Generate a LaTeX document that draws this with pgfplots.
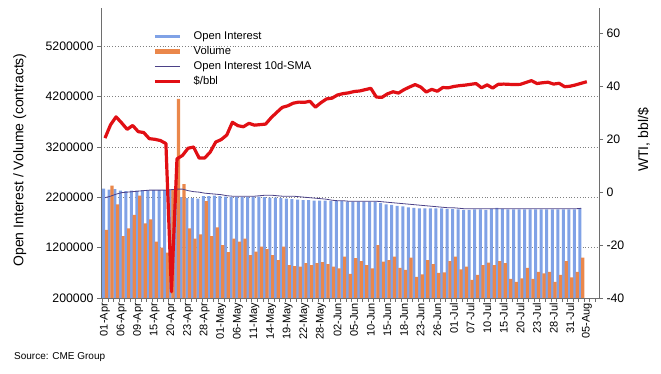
\documentclass[border=0pt]{standalone}
\usepackage{pgfplots}
\pgfplotsset{compat=1.18}
\usepackage{pgfplotstable}
\usepackage{fontspec}
\setmainfont{Liberation Sans}
\definecolor{oiD}{RGB}{80,120,210}
\definecolor{oiM}{RGB}{128,162,230}
\definecolor{volC}{RGB}{234,135,75}
\definecolor{smaC}{RGB}{75,65,135}
\definecolor{wti}{RGB}{225,15,20}
\definecolor{axC}{RGB}{110,110,110}
\pgfplotstableread{
idx oi vol sma price
0 2370000 1550000 2190000 20.31
1 2350000 2430000 2220000 25.32
2 2360000 2060000 2260000 28.34
3 2330000 1430000 2290000 26.08
4 2320000 1580000 2300000 23.63
5 2330000 1850000 2310000 25.09
6 2330000 2230000 2320000 22.76
7 2340000 1680000 2330000 22.41
8 2340000 1760000 2340000 20.11
9 2340000 1320000 2340000 19.87
10 2340000 1200000 2340000 19.40
11 2340000 1100000 2340000 18.27
12 2350000 2350000 2350000 -37.63
13 2370000 4150000 2360000 12.5
14 2200000 2460000 2360000 13.78
15 2180000 1580000 2330000 16.50
16 2180000 1380000 2310000 16.94
17 2170000 1460000 2300000 12.78
18 2220000 2120000 2280000 12.80
19 2220000 1430000 2270000 15.06
20 2230000 1600000 2260000 18.84
21 2220000 1250000 2250000 19.78
22 2210000 1110000 2230000 21.5
23 2200000 1380000 2220000 26.3
24 2200000 1320000 2220000 25.0
25 2200000 1380000 2220000 24.6
26 2200000 1050000 2220000 25.9
27 2210000 1120000 2220000 25.2
28 2210000 1220000 2230000 25.4
29 2200000 1170000 2240000 25.6
30 2190000 1050000 2240000 28.0
31 2190000 950000 2230000 30.0
32 2180000 1220000 2220000 31.9
33 2170000 850000 2220000 32.5
34 2160000 830000 2220000 33.5
35 2150000 820000 2210000 33.9
36 2140000 890000 2200000 33.8
37 2140000 850000 2190000 34.2
38 2130000 890000 2180000 32.0
39 2130000 910000 2170000 33.7
40 2130000 870000 2160000 35.1
41 2120000 820000 2140000 35.4
42 2120000 790000 2130000 36.6
43 2120000 1020000 2130000 37.1
44 2110000 680000 2120000 37.4
45 2110000 990000 2120000 37.9
46 2110000 930000 2120000 38.1
47 2110000 850000 2120000 38.6
48 2110000 790000 2120000 39.1
49 2110000 1250000 2120000 35.8
50 2080000 920000 2110000 35.7
51 2060000 950000 2100000 37.0
52 2050000 1020000 2090000 37.8
53 2030000 800000 2080000 37.3
54 2020000 760000 2070000 38.6
55 2000000 1000000 2060000 39.6
56 1990000 620000 2050000 40.5
57 1980000 670000 2040000 39.6
58 1980000 950000 2030000 37.7
59 1980000 870000 2020000 38.7
60 1980000 700000 2010000 38.0
61 1980000 710000 2000000 39.4
62 1970000 930000 1990000 39.3
63 1970000 1020000 1990000 39.8
64 1960000 770000 1980000 40.1
65 1950000 820000 1970000 40.3
66 1950000 560000 1970000 40.6
67 1960000 660000 1970000 40.9
68 1960000 850000 1970000 39.3
69 1950000 900000 1970000 40.4
70 1970000 850000 1970000 39.2
71 1990000 930000 1970000 40.6
72 1970000 890000 1970000 40.7
73 1960000 580000 1970000 40.6
74 1960000 520000 1970000 40.5
75 1960000 590000 1970000 40.6
76 1960000 800000 1970000 41.3
77 1960000 580000 1970000 42.0
78 1960000 720000 1970000 40.9
79 1960000 690000 1970000 41.2
80 1960000 720000 1970000 41.4
81 1960000 520000 1970000 40.7
82 1960000 660000 1970000 41.0
83 1960000 930000 1970000 39.7
84 1960000 610000 1970000 39.9
85 1960000 720000 1970000 40.4
86 1980000 1000000 1980000 41.0
87 nan nan nan 41.6
}\data
\begin{document}
\begin{tikzpicture}
\useasboundingbox (-101pt,-76pt) rectangle (560pt,298pt);
\begin{axis}[
  scale only axis, width=498pt, height=290pt, at={(0pt,0pt)}, anchor=south west,
  xmin=-0.72, xmax=89.2, ymin=200000, ymax=5954000,
  axis y line*=left, axis x line*=bottom,
  axis line style={axC, line width=0.6pt},
  tick align=outside, major tick length=4pt,
  tick style={axC, line width=0.5pt},
  /pgf/number format/assume math mode=true,
  ytick={200000,1200000,2200000,3200000,4200000,5200000},
  scaled y ticks=false,
  yticklabel style={/pgf/number format/fixed, /pgf/number format/precision=0, /pgf/number format/1000 sep={}, font=\fontsize{12.3}{14}\selectfont},
  ymajorgrids, grid style={black!50, line width=0.5pt, dash pattern=on 0.8pt off 2pt},
  xtick={-0.5,0.5,...,89.5}, xticklabels={},
  extra x ticks={0,3,...,87},
  extra x tick labels={01-Apr,06-Apr,09-Apr,15-Apr,20-Apr,23-Apr,28-Apr,01-May,06-May,11-May,14-May,19-May,22-May,28-May,02-Jun,05-Jun,10-Jun,15-Jun,18-Jun,23-Jun,26-Jun,01-Jul,07-Jul,10-Jul,15-Jul,20-Jul,23-Jul,28-Jul,31-Jul,05-Aug},
  extra x tick style={tick style={draw=none}, grid=none,
    xticklabel style={font=\fontsize{11}{13}\selectfont, rotate=90, anchor=east, inner sep=1pt}},
  ylabel={Open Interest / Volume (contracts)},
  ylabel style={at={(axis description cs:-0.163,0.476)}, anchor=center, font=\fontsize{14}{16}\selectfont},
]
\addplot[ybar, bar width=3.0pt, bar shift=-1.3pt, draw=none, fill=oiM] table[x=idx, y=oi]{\data};
\addplot[ybar, bar width=3.2pt, bar shift=1.5pt, draw=none, fill=volC] table[x=idx, y=vol]{\data};
\addplot[smaC, line width=0.8pt, no marks] table[x=idx, y=sma]{\data};
\end{axis}
\begin{axis}[
  scale only axis, width=498pt, height=290pt, at={(0pt,0pt)}, anchor=south west,
  xmin=-0.72, xmax=89.2, ymin=-40, ymax=69.4,
  axis y line*=right, axis x line=none,
  axis line style={axC, line width=0.6pt},
  tick align=outside, major tick length=4pt,
  tick style={axC, line width=0.5pt},
  /pgf/number format/assume math mode=true,
  ytick={-40,-20,0,20,40,60},
  yticklabel style={font=\fontsize{12.3}{14}\selectfont},
  ylabel={WTI, bbl/\$},
  ylabel style={at={(axis description cs:1.09,0.545)}, anchor=center, font=\fontsize{14}{16}\selectfont},
  legend style={at={(axis description cs:0.1024,0.925)}, anchor=north west, draw=none, fill=none,
    font=\fontsize{11.2}{13}\selectfont, inner sep=0pt, row sep=1.5pt,
    nodes={inner sep=0pt, text height=10pt, text depth=3.4pt}},
  legend cell align=left,
  legend image code/.code={\draw[#1] (0pt,0pt) -- (25pt,0pt); \path (36pt,0pt);},
]
\addlegendimage{oiM, line width=3.5pt}
\addlegendentry{Open Interest}
\addlegendimage{volC, line width=5.5pt}
\addlegendentry{Volume}
\addlegendimage{smaC, line width=0.8pt}
\addlegendentry{Open Interest 10d-SMA}
\addplot[wti, line width=3.2pt, no marks, line join=round] table[x=idx, y=price]{\data};
\addlegendentry{\$/bbl}
\end{axis}
\node[anchor=west, font=\fontsize{10}{12}\selectfont, inner sep=0pt] at (-87pt,-59pt) {Source: CME Group};
\end{tikzpicture}
\end{document}
